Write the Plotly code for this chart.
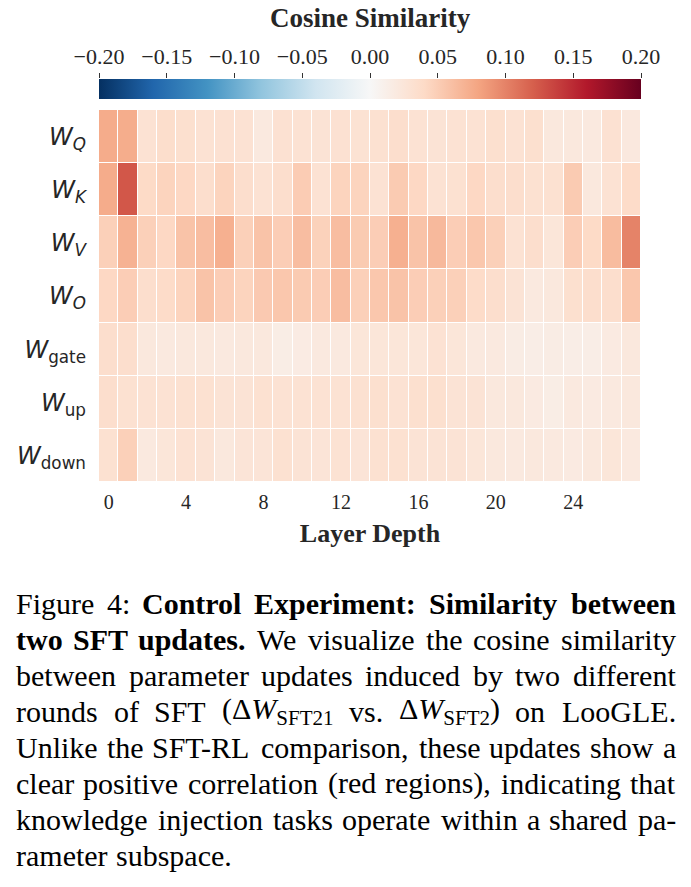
import re
import plotly.graph_objects as go

# ---------------- data ----------------
layers = list(range(28))
row_labels = [
    "<i>W</i><sub><i>Q</i></sub>",
    "<i>W</i><sub><i>K</i></sub>",
    "<i>W</i><sub><i>V</i></sub>",
    "<i>W</i><sub><i>O</i></sub>",
    "<i>W</i><sub>gate</sub>",
    "<i>W</i><sub>up</sub>",
    "<i>W</i><sub>down</sub>",
]
w_q = [0.075, 0.074, 0.030, 0.036, 0.033, 0.030, 0.031, 0.030, 0.020, 0.031, 0.030, 0.028, 0.031, 0.030,
       0.032, 0.035, 0.030, 0.028, 0.030, 0.030, 0.033, 0.030, 0.033, 0.022, 0.022, 0.020, 0.031, 0.021]
w_k = [0.075, 0.125, 0.040, 0.045, 0.042, 0.035, 0.045, 0.035, 0.030, 0.035, 0.051, 0.030, 0.045, 0.045,
       0.030, 0.052, 0.042, 0.030, 0.032, 0.042, 0.035, 0.035, 0.032, 0.032, 0.052, 0.022, 0.030, 0.038]
w_v = [0.048, 0.070, 0.048, 0.042, 0.058, 0.062, 0.072, 0.048, 0.058, 0.050, 0.062, 0.047, 0.062, 0.052,
       0.050, 0.072, 0.058, 0.065, 0.050, 0.055, 0.048, 0.030, 0.035, 0.025, 0.050, 0.040, 0.063, 0.100]
w_o = [0.042, 0.050, 0.035, 0.038, 0.045, 0.058, 0.050, 0.045, 0.053, 0.055, 0.052, 0.050, 0.062, 0.048,
       0.055, 0.058, 0.050, 0.048, 0.048, 0.038, 0.035, 0.028, 0.020, 0.022, 0.033, 0.035, 0.035, 0.055]
w_gate = [0.035, 0.035, 0.022, 0.020, 0.022, 0.022, 0.020, 0.022, 0.022, 0.015, 0.017, 0.020, 0.020, 0.025,
          0.025, 0.025, 0.025, 0.030, 0.025, 0.020, 0.020, 0.016, 0.014, 0.016, 0.014, 0.014, 0.018, 0.022]
w_up = [0.035, 0.032, 0.030, 0.030, 0.032, 0.032, 0.028, 0.028, 0.032, 0.030, 0.030, 0.030, 0.030, 0.032,
        0.033, 0.030, 0.033, 0.033, 0.028, 0.028, 0.022, 0.022, 0.018, 0.015, 0.020, 0.018, 0.020, 0.022]
w_down = [0.032, 0.048, 0.020, 0.025, 0.030, 0.028, 0.022, 0.027, 0.027, 0.032, 0.028, 0.027, 0.030, 0.027,
          0.032, 0.032, 0.028, 0.028, 0.028, 0.025, 0.022, 0.020, 0.022, 0.020, 0.018, 0.022, 0.025, 0.020]
z = [w_q, w_k, w_v, w_o, w_gate, w_up, w_down]

x_ticks = [0, 4, 8, 12, 16, 20, 24]
cbar_ticks = [-0.20, -0.15, -0.10, -0.05, 0.00, 0.05, 0.10, 0.15, 0.20]

caption_lines = [
    "Figure 4: <b>Control</b> <b>Experiment:</b> <b>Similarity</b> <b>between</b>",
    "<b>two</b> <b>SFT</b> <b>updates.</b> We visualize the cosine similarity",
    "between parameter updates induced by two different",
    "rounds of SFT (Δ<i>W</i><sub>SFT21</sub> vs. Δ<i>W</i><sub>SFT2</sub>) on LooGLE.",
    "Unlike the SFT-RL comparison, these updates show a",
    "clear positive correlation (red regions), indicating that",
    "knowledge injection tasks operate within a shared pa-",
    "rameter subspace.",
]

# ---------------- style ----------------
rdbu = ['#67001f', '#b2182b', '#d6604d', '#f4a582', '#fddbc7', '#f7f7f7',
        '#d1e5f0', '#92c5de', '#4393c3', '#2166ac', '#053061'][::-1]
colorscale = [[i / 10, c] for i, c in enumerate(rdbu)]

W, H = 691, 887
ML, MR, MT, MB = 99, 50, 30, 405
PW, PH = W - ML - MR, H - MT - MB
def py(p):  # pixel y -> paper y
    return (H - MB - p) / PH
def px(p):  # pixel x -> paper x
    return (p - ML) / PW

SERIF = "Liberation Serif"
TXT = "#262626"

# Times-compatible glyph widths (per 1000 em), used only to justify the caption text
TR = dict(zip(" !(),-.:0123456789", [250, 333, 333, 333, 250, 333, 250, 278] + [500] * 10))
TR.update(zip("ABCDEFGHIJKLMNOPQRSTUVWXYZ",
              [722, 667, 667, 722, 611, 556, 722, 722, 333, 389, 722, 611, 889, 722, 722, 556, 722, 667,
               556, 611, 722, 722, 944, 722, 722, 611]))
TR.update(zip("abcdefghijklmnopqrstuvwxyz",
              [444, 500, 444, 500, 444, 333, 500, 500, 278, 278, 500, 278, 778, 500, 500, 500, 500, 333,
               389, 278, 500, 500, 722, 500, 500, 444]))
TR["Δ"] = 612
TB = dict(TR)
TB.update(zip("ABCDEFGHIJKLMNOPQRSTUVWXYZ",
              [722, 667, 722, 722, 667, 611, 778, 778, 389, 500, 778, 667, 944, 722, 778, 611, 778, 722,
               556, 667, 722, 722, 1000, 722, 722, 667]))
TB.update(zip("abcdefghijklmnopqrstuvwxyz",
              [500, 556, 444, 556, 444, 333, 500, 556, 278, 333, 556, 278, 833, 556, 500, 556, 556, 444,
               389, 333, 556, 500, 722, 500, 500, 444]))
TB[":"] = 333
TI = dict(TR)
TI["W"] = 833

def word_width(html, size):
    b = i = sub = False
    w = 0.0
    for tok in re.findall(r"<[^>]+>|[^<]+", html):
        if tok.startswith("<"):
            t = tok.strip("<>/")
            on = not tok.startswith("</")
            if t == "b":
                b = on
            elif t == "i":
                i = on
            elif t == "sub":
                sub = on
            continue
        table = TB if b else (TI if i else TR)
        for ch in tok:
            w += table.get(ch, 500) * (0.7 if sub else 1.0)
    return w * size / 1000.0

fig = go.Figure()
fig.add_trace(go.Heatmap(
    z=z, x=layers, y=row_labels, colorscale=colorscale, zmin=-0.2, zmax=0.2,
    xgap=1, ygap=1, hoverongaps=False,
    colorbar=dict(orientation='h', x=0.5, xanchor='center', y=py(99), yanchor='bottom',
                  len=1, lenmode='fraction', thickness=20, thicknessmode='pixels',
                  xpad=0, ypad=0, outlinewidth=0, showticklabels=False, ticks=''),
))
fig.add_trace(go.Scatter(x=[None], y=[None], xaxis='x2', yaxis='y2', showlegend=False, hoverinfo='skip'))

fig.update_layout(
    width=W, height=H, margin=dict(l=ML, r=MR, t=MT, b=MB),
    paper_bgcolor='white', plot_bgcolor='white',
    xaxis=dict(domain=[0, 1], range=[-0.5, 27.5], tickvals=x_ticks, ticks='', showgrid=False,
               zeroline=False, showline=False, ticklabelstandoff=6,
               tickfont=dict(family=SERIF, size=20, color=TXT),
               title=dict(text="<b>Layer Depth</b>", font=dict(family=SERIF, size=26, color=TXT), standoff=11)),
    yaxis=dict(domain=[0, py(110)], autorange='reversed', ticks='', showgrid=False, zeroline=False,
               ticklabelstandoff=12, tickfont=dict(family="DejaVu Sans", size=24, color=TXT)),
    xaxis2=dict(anchor='y2', side='top', range=[-0.2, 0.2], tickvals=cbar_ticks, tickformat='.2f',
                ticks='outside', ticklen=5, tickcolor='#333', showgrid=False, zeroline=False,
                showline=False, tickfont=dict(family=SERIF, size=22, color=TXT)),
    yaxis2=dict(domain=[py(99), py(79)], range=[0, 1], visible=False),
    showlegend=False,
)

fig.add_annotation(text="<b>Cosine Similarity</b>", xref='paper', yref='paper', x=0.5, y=py(18),
                   xanchor='center', yanchor='middle', showarrow=False,
                   font=dict(family=SERIF, size=27, color=TXT))

# caption, justified word by word between x=16 and x=676 (last line left-aligned)
CAP_SIZE = 30
X0, X1 = 16, 676
for li, line in enumerate(caption_lines):
    yy = py(603 + 36 * li)
    words = line.split(" ")
    widths = [word_width(w, CAP_SIZE) * 1.01 for w in words]
    last = li == len(caption_lines) - 1
    if last or len(words) == 1:
        gap = 0.25 * CAP_SIZE
    else:
        gap = (X1 - X0 - sum(widths)) / (len(words) - 1)
    x = X0
    for k, (wd, ww) in enumerate(zip(words, widths)):
        is_end = (not last) and k == len(words) - 1 and k > 0
        fig.add_annotation(text=wd, xref='paper', yref='paper',
                           x=px(X1) if is_end else px(x), y=yy,
                           xanchor='right' if is_end else 'left', yanchor='middle',
                           showarrow=False, borderpad=0, borderwidth=0,
                           font=dict(family=SERIF, size=CAP_SIZE, color='black'))
        x += ww + gap

fig.write_html("out.html")
